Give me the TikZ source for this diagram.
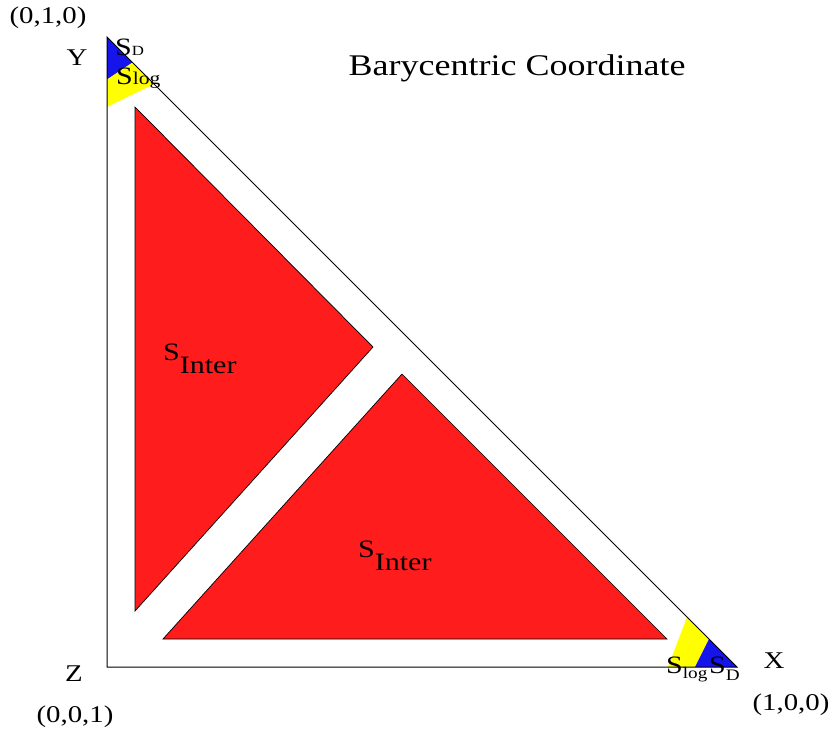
\documentclass[tikz,border=0pt]{standalone}
\usepackage{fontspec}
\setmainfont{Liberation Serif}[FakeStretch=1.2]
\definecolor{myred}{RGB}{255,28,28}
\definecolor{myblue}{RGB}{20,20,235}
\definecolor{myyellow}{RGB}{255,255,0}
\newcommand\fsz[1]{\fontsize{#1}{#1}\selectfont}
\begin{document}
\begin{tikzpicture}[x=1pt,y=-1pt,
  edge/.style={draw=black,line width=1pt},
  redtri/.style={fill=myred,draw=black,line width=0.7pt},
  lab/.style={inner sep=0pt,anchor=base,font=\fsz{24}},
  slab/.style={inner sep=0pt,anchor=base west,font=\fsz{25}}]
\useasboundingbox (0,0) rectangle (834,734);
\coordinate (Y) at (107,37);
\coordinate (Z) at (107,667);
\coordinate (X) at (737,667);
% corner regions
\fill[myblue] (Y) -- (107,79.5) -- (132.5,62.5) -- cycle;
\fill[myyellow] (107,79.5) -- (132.5,62.5) -- (154,84) -- (107,107) -- cycle;
\fill[myyellow] (668,667) -- (687,617) -- (709,639) -- (695,667) -- cycle;
\fill[myblue] (695,667) -- (709,639) -- (X) -- cycle;
% interior regions
\filldraw[redtri] (135,107) -- (135,611) -- (373,347) -- cycle;
\filldraw[redtri] (163,639) -- (667,639) -- (402,374) -- cycle;
% main triangle
\draw[edge] (Y) -- (Z) -- (X) -- cycle;
% labels
\node[lab,font=\fsz{30}] (title) at (517,75) {Barycentric Coordinate};
\node[lab] (ycoord) at (48,23) {(0,1,0)};
\node[lab] (ylab) at (77,65) {Y};
\node[lab] (zlab) at (74,681) {Z};
\node[lab] (zcoord) at (75,722) {(0,0,1)};
\node[lab] (xlab) at (774,668) {X};
\node[lab] (xcoord) at (791,710) {(1,0,0)};
\node[slab] (inter1) at (163,360) {S\raisebox{-13pt}{Inter}};
\node[slab] (inter2) at (358,557) {S\raisebox{-13pt}{Inter}};
\node[slab] (sdtop) at (115,55) {S{\fsz{14}D}};
\node[slab] (slogtop) at (116,84) {S{\fsz{18}log}};
\node[slab] (slogright) at (666,673) {S\raisebox{-5pt}{\fsz{16}log}};
\node[slab] (sdright) at (709,673) {S\raisebox{-7pt}{\fsz{16}D}};
\end{tikzpicture}
\end{document}
